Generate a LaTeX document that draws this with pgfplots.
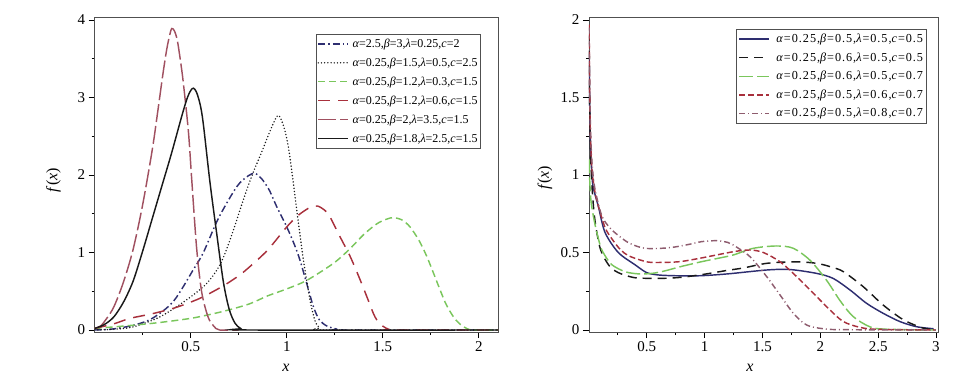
\documentclass[border=0pt]{standalone}
\usepackage{fontspec}
\setmainfont{Liberation Serif}
\newfontfamily\legfontR[LetterSpace=8]{Liberation Serif}
\usepackage{pgfplots}
\pgfplotsset{compat=1.18}

\definecolor{cnavy}{RGB}{46,46,112}
\definecolor{cdred}{RGB}{168,48,60}
\definecolor{crose}{RGB}{160,80,96}
\definecolor{cmauve}{RGB}{142,92,110}
\definecolor{cgreen}{RGB}{122,198,92}
\definecolor{cblack}{RGB}{25,25,25}
\definecolor{cframe}{RGB}{80,80,80}

\newcommand{\pa}{\textit{α}}
\newcommand{\pb}{\textit{β}}
\newcommand{\pl}{\textit{λ}}
\newcommand{\pc}{\textit{c}}

\pgfplotsset{
  densplot/.style={
    scale only axis,
    axis lines=box,
    axis line style={cframe, line width=0.8pt},
    tick pos=left,
    tick align=outside,
    major tick length=6pt,
    minor tick length=3pt,
    every tick/.style={black, line width=0.7pt},
    /pgf/number format/assume math mode=true,
    ticklabel style={font=\fontsize{15}{18}\selectfont},
    label style={font=\fontsize{16}{19}\selectfont},
    xlabel={\textit{x}},
    ylabel={\textit{f}(\textit{x})},
    legend cell align=left,
    legend image code/.code={\draw[#1, line width=1.5pt] (0pt,0pt) -- (30pt,0pt);},
    every axis plot/.append style={line width=1.45pt},
  },
}

\begin{document}
\begin{tikzpicture}[x=1pt,y=1pt]
\path[use as bounding box] (0,0) rectangle (953,386);

% ---------------- left panel ----------------
\begin{axis}[densplot,
  at={(94.7pt,54pt)}, anchor=south west,
  width=403.3pt, height=314.7pt,
  xmin=0, xmax=2.1, ymin=-0.026, ymax=4.035,
  xtick={0.5,1,1.5,2},
  minor xtick={0.25,0.75,1.25,1.75},
  ytick={0,1,2,3,4},
  minor ytick={0.5,1.5,2.5,3.5},
  xlabel style={at={(rel axis cs:0.474,-0.114)}, anchor=center},
  ylabel style={at={(rel axis cs:-0.102,0.483)}, anchor=center},
  legend style={at={(rel axis cs:0.549,0.947)}, anchor=north west,
    draw=cframe, line width=0.8pt, inner xsep=1pt, inner ysep=3pt,
    font=\fontsize{12}{14}\selectfont, row sep=6pt, column sep=2pt,
    nodes={inner sep=1.5pt}},
]
% alpha=2.5, beta=3, lambda=0.25, c=2
\addplot[cnavy, smooth, tension=0.5, dash pattern=on 7pt off 3pt on 1.5pt off 3pt] coordinates {
 (0,0) (0.05,0.005) (0.1,0.015) (0.2,0.06) (0.3,0.15) (0.41,0.37) (0.514,0.78)
 (0.566,1.0) (0.644,1.44) (0.74,1.85) (0.8,1.99) (0.835,2.02) (0.87,1.95)
 (0.91,1.8) (0.948,1.59) (1.0,1.33) (1.04,1.1) (1.069,0.9) (1.104,0.6)
 (1.139,0.3) (1.17,0.13) (1.21,0.05) (1.26,0.012) (1.3,0) (2.1,0)};
\addlegendentry{\pa=2.5,\pb=3,\pl=0.25,\pc=2}
% alpha=0.25, beta=1.5, lambda=0.5, c=2.5
\addplot[cblack, smooth, tension=0.5, line cap=round, line width=1.6pt, dash pattern=on 0pt off 3.2pt] coordinates {
 (0,0) (0.1,0.01) (0.2,0.04) (0.34,0.17) (0.479,0.39) (0.583,0.6) (0.654,0.85)
 (0.71,1.2) (0.774,1.68) (0.82,2.0) (0.87,2.3) (0.922,2.62) (0.956,2.77)
 (0.985,2.62) (1.008,2.37) (1.03,1.98) (1.052,1.55) (1.087,0.9) (1.121,0.39)
 (1.147,0.12) (1.17,0.03) (1.2,0) (2.1,0)};
\addlegendentry{\pa=0.25,\pb=1.5,\pl=0.5,\pc=2.5}
% alpha=0.25, beta=1.2, lambda=0.3, c=1.5
\addplot[cgreen, smooth, tension=0.5, dash pattern=on 7pt off 4pt] coordinates {
 (0,0.02) (0.1,0.04) (0.236,0.07) (0.35,0.1) (0.5,0.15) (0.6,0.2) (0.7,0.26)
 (0.809,0.34) (0.9,0.44) (1.0,0.53) (1.104,0.64) (1.243,0.86) (1.33,1.05)
 (1.4,1.23) (1.469,1.37) (1.52,1.43) (1.555,1.45) (1.6,1.42) (1.642,1.33)
 (1.69,1.15) (1.729,0.95) (1.76,0.76) (1.798,0.52) (1.83,0.33) (1.868,0.17)
 (1.9,0.08) (1.937,0.02) (1.97,0) (2.1,0)};
\addlegendentry{\pa=0.25,\pb=1.2,\pl=0.3,\pc=1.5}
% alpha=0.25, beta=1.2, lambda=0.6, c=1.5
\addplot[cdred, smooth, tension=0.5, dash pattern=on 12pt off 8pt] coordinates {
 (0,0.02) (0.1,0.08) (0.184,0.15) (0.3,0.21) (0.41,0.28) (0.5,0.36) (0.566,0.43)
 (0.67,0.57) (0.75,0.7) (0.809,0.82) (0.9,1.03) (1.0,1.33) (1.06,1.48)
 (1.12,1.58) (1.16,1.6) (1.2,1.54) (1.225,1.46) (1.278,1.2) (1.33,0.95)
 (1.38,0.66) (1.417,0.43) (1.45,0.22) (1.469,0.13) (1.5,0.05) (1.53,0.01)
 (1.56,0) (2.1,0)};
\addlegendentry{\pa=0.25,\pb=1.2,\pl=0.6,\pc=1.5}
% alpha=0.25, beta=2, lambda=3.5, c=1.5
\addplot[crose, smooth, tension=0.5, dash pattern=on 18pt off 4pt] coordinates {
 (0,0.02) (0.03,0.05) (0.06,0.14) (0.1,0.3) (0.15,0.62) (0.2,1.04)
 (0.25,1.62) (0.3,2.33) (0.33,2.85) (0.355,3.3) (0.375,3.62)
 (0.39,3.8) (0.401,3.89) (0.415,3.86) (0.43,3.74) (0.445,3.5) (0.461,3.2)
 (0.488,2.56) (0.505,1.95) (0.531,1.05) (0.557,0.49) (0.59,0.17) (0.62,0.05)
 (0.65,0) (0.75,0)};
\addlegendentry{\pa=0.25,\pb=2,\pl=3.5,\pc=1.5}
% alpha=0.25, beta=1.8, lambda=2.5, c=1.5
\addplot[cblack, smooth, tension=0.5] coordinates {
 (0,0.02) (0.05,0.07) (0.1,0.17) (0.15,0.36) (0.2,0.63) (0.25,1.02)
 (0.3,1.44) (0.35,1.86) (0.4,2.28) (0.45,2.73) (0.48,2.98) (0.5,3.09)
 (0.514,3.12) (0.53,3.07) (0.55,2.9) (0.566,2.65) (0.6,1.91) (0.635,1.25)
 (0.67,0.62) (0.7,0.27) (0.73,0.09) (0.76,0.02) (0.8,0) (2.1,0)};
\addlegendentry{\pa=0.25,\pb=1.8,\pl=2.5,\pc=1.5}
\end{axis}

% ---------------- right panel ----------------
\begin{axis}[densplot,
  at={(588.9pt,54pt)}, anchor=south west,
  width=349.4pt, height=314.5pt,
  xmin=0, xmax=3.02, ymin=-0.013, ymax=2.016,
  xtick={0.5,1,1.5,2,2.5,3},
  minor xtick={0.25,0.75,1.25,1.75,2.25,2.75},
  ytick={0,0.5,1,1.5,2},
  minor ytick={0.25,0.75,1.25,1.75},
  xlabel style={at={(rel axis cs:0.461,-0.114)}, anchor=center},
  ylabel style={at={(rel axis cs:-0.126,0.49)}, anchor=center},
  legend style={at={(rel axis cs:0.421,0.963)}, anchor=north west,
    draw=cframe, line width=0.8pt, inner xsep=2pt, inner ysep=3pt,
    font=\legfontR\fontsize{12.2}{14}\selectfont, row sep=5.5pt, column sep=5pt,
    nodes={inner sep=1.5pt}},
]
% alpha=0.25, beta=0.5, lambda=0.5, c=0.5
\addplot[cnavy, smooth, tension=0.5] coordinates {
 (0.002,1.8) (0.006,1.5) (0.012,1.25) (0.02,1.08) (0.035,0.93) (0.081,0.8)
 (0.139,0.63) (0.254,0.5) (0.4,0.42) (0.5,0.37) (0.6,0.355) (0.75,0.35)
 (0.961,0.35) (1.2,0.362) (1.537,0.387) (1.738,0.39) (1.969,0.365)
 (2.11,0.333) (2.257,0.258) (2.4,0.172) (2.545,0.107) (2.689,0.054)
 (2.833,0.021) (2.98,0.008)};
\addlegendentry{\pa=0.25,\pb=0.5,\pl=0.5,\pc=0.5}
% alpha=0.25, beta=0.6, lambda=0.5, c=0.5
\addplot[cblack, smooth, tension=0.5, dash pattern=on 9pt off 6pt] coordinates {
 (0.002,1.9) (0.006,1.5) (0.012,1.2) (0.025,0.95) (0.05,0.72) (0.1,0.52)
 (0.18,0.41) (0.254,0.37) (0.35,0.345) (0.43,0.335) (0.63,0.333) (0.8,0.34)
 (1.0,0.36) (1.2,0.385) (1.335,0.4) (1.537,0.43) (1.78,0.44) (1.969,0.43)
 (2.1,0.405) (2.2,0.376) (2.37,0.28) (2.545,0.16) (2.72,0.065) (2.89,0.012)
 (2.99,0.003)};
\addlegendentry{\pa=0.25,\pb=0.6,\pl=0.5,\pc=0.5}
% alpha=0.25, beta=0.6, lambda=0.5, c=0.7
\addplot[cgreen, smooth, tension=0.5, dash pattern=on 14pt off 4pt] coordinates {
 (0.002,1.1) (0.008,0.95) (0.02,0.82) (0.053,0.68) (0.1,0.54) (0.139,0.48)
 (0.2,0.42) (0.312,0.376) (0.43,0.362) (0.543,0.365) (0.65,0.38) (0.8,0.41)
 (0.97,0.44) (1.1,0.46) (1.248,0.484) (1.421,0.527) (1.623,0.542)
 (1.767,0.527) (1.911,0.45) (2.055,0.32) (2.17,0.19) (2.285,0.086)
 (2.43,0.02) (2.57,0.005) (3.0,0)};
\addlegendentry{\pa=0.25,\pb=0.6,\pl=0.5,\pc=0.7}
% alpha=0.25, beta=0.5, lambda=0.6, c=0.7
\addplot[cdred, smooth, tension=0.5, dash pattern=on 6pt off 3pt] coordinates {
 (0.002,1.97) (0.006,1.6) (0.012,1.3) (0.025,1.05) (0.05,0.9) (0.081,0.8)
 (0.14,0.66) (0.197,0.59) (0.27,0.52) (0.34,0.48) (0.45,0.45) (0.543,0.436)
 (0.773,0.44) (0.975,0.465) (1.248,0.505) (1.392,0.516) (1.507,0.5)
 (1.652,0.44) (1.796,0.344) (1.94,0.237) (2.084,0.129) (2.2,0.054)
 (2.343,0.017) (2.5,0.004) (3.0,0)};
\addlegendentry{\pa=0.25,\pb=0.5,\pl=0.6,\pc=0.7}
% alpha=0.25, beta=0.5, lambda=0.8, c=0.7
\addplot[cmauve, smooth, tension=0.5, dash pattern=on 6pt off 3pt on 1pt off 3pt] coordinates {
 (0.002,1.95) (0.006,1.6) (0.012,1.35) (0.025,1.1) (0.05,0.92) (0.11,0.74)
 (0.18,0.66) (0.254,0.61) (0.35,0.56) (0.485,0.527) (0.686,0.53) (0.85,0.55)
 (0.975,0.57) (1.105,0.576) (1.2,0.565) (1.248,0.548) (1.392,0.473)
 (1.537,0.344) (1.652,0.226) (1.767,0.108) (1.882,0.032) (2.026,0.008)
 (2.2,0.002) (3.0,0)};
\addlegendentry{\pa=0.25,\pb=0.5,\pl=0.8,\pc=0.7}
\end{axis}
\end{tikzpicture}
\end{document}
